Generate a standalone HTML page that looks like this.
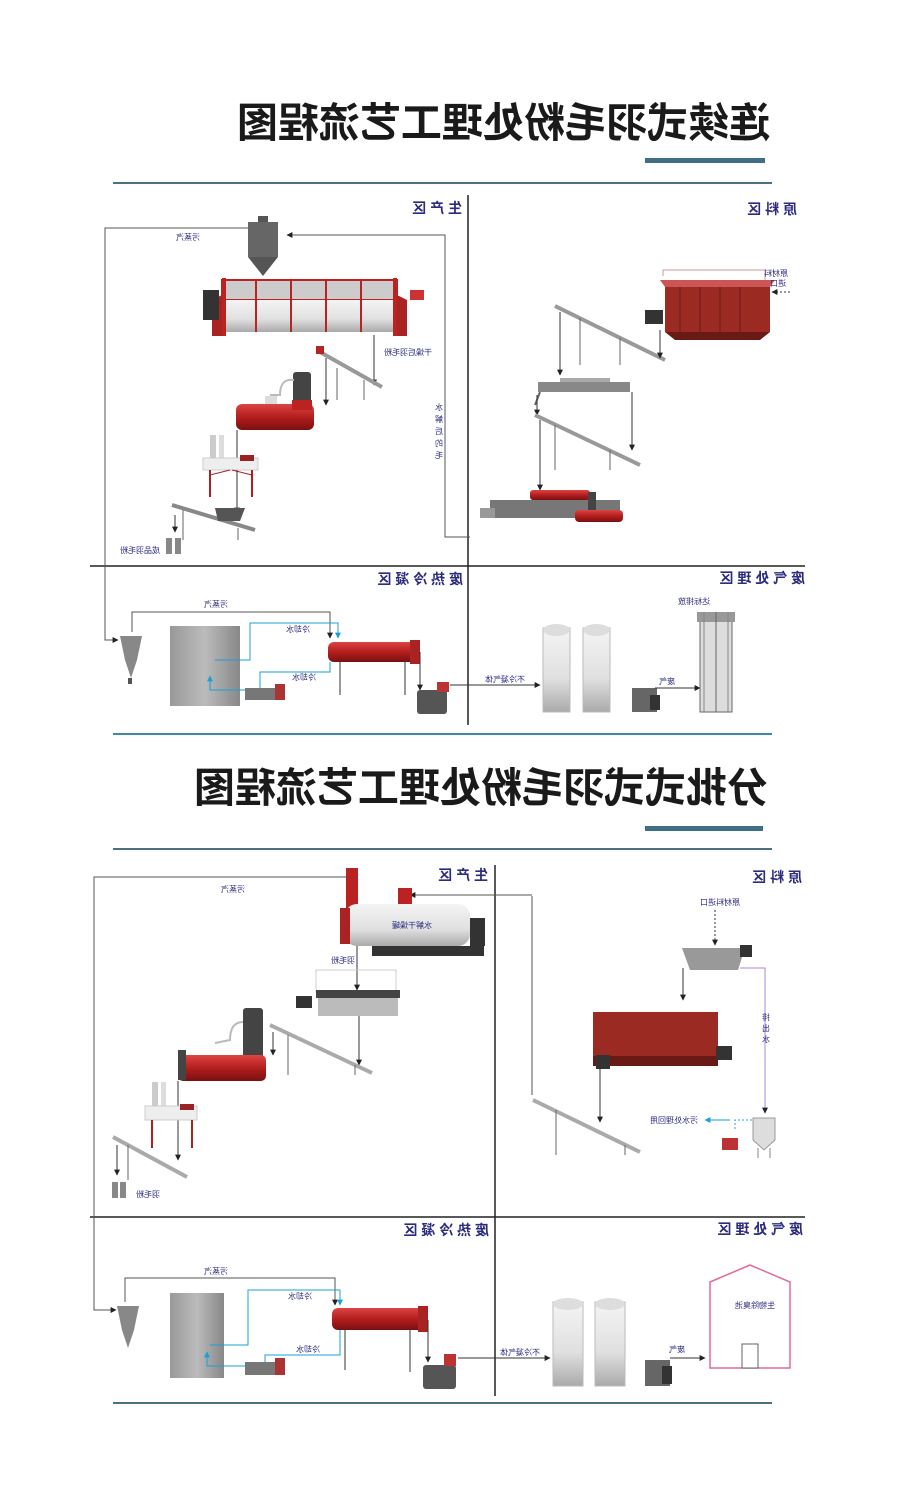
<!DOCTYPE html>
<html><head><meta charset="utf-8"><style>
html,body{margin:0;padding:0;background:#fff;}
svg{display:block;}
text{font-family:"Liberation Sans","Noto Sans CJK SC",sans-serif;}
.t{font-size:41px;font-weight:bold;fill:#1a1a1a;}
.z{font-size:14px;font-weight:bold;fill:#2b2b80;}
.s{font-size:8px;fill:#2b2b80;}
</style></head><body>
<svg width="920" height="1498" viewBox="0 0 920 1498" xmlns="http://www.w3.org/2000/svg">
<defs>
<linearGradient id="gr" x1="0" y1="0" x2="0" y2="1"><stop offset="0" stop-color="#d44"/><stop offset=".5" stop-color="#b41e1e"/><stop offset="1" stop-color="#7a1010"/></linearGradient>
<linearGradient id="gw" x1="0" y1="0" x2="0" y2="1"><stop offset="0" stop-color="#f4f4f4"/><stop offset=".6" stop-color="#e0e0e0"/><stop offset="1" stop-color="#aaa"/></linearGradient>
<linearGradient id="gg" x1="0" y1="0" x2="1" y2="0"><stop offset="0" stop-color="#999"/><stop offset=".5" stop-color="#bbb"/><stop offset="1" stop-color="#888"/></linearGradient>
<marker id="a" viewBox="0 0 10 10" refX="9" refY="5" markerWidth="6" markerHeight="6" orient="auto"><path d="M0,0L10,5L0,10z" fill="#222"/></marker>
<marker id="b" viewBox="0 0 10 10" refX="9" refY="5" markerWidth="6" markerHeight="6" orient="auto"><path d="M0,0L10,5L0,10z" fill="#19a0d8"/></marker>
</defs>

<text class="t" transform="translate(770,137) scale(-1,1)">连续式羽毛粉处理工艺流程图</text>
<rect x="645" y="158" width="120" height="5" fill="#3e6f86"/>
<line x1="113" y1="183" x2="772" y2="183" stroke="#4d6f82" stroke-width="2"/>

<text class="t" transform="translate(768,802) scale(-1,1)">分批式式羽毛粉处理工艺流程图</text>
<rect x="645" y="826" width="118" height="5" fill="#3e6f86"/>
<line x1="113" y1="849" x2="772" y2="849" stroke="#4d6f82" stroke-width="2"/>

<line x1="113" y1="734" x2="772" y2="734" stroke="#3e8aa3" stroke-width="2"/>
<line x1="113" y1="1403" x2="772" y2="1403" stroke="#4d6f82" stroke-width="2"/>

<line x1="468" y1="195" x2="468" y2="725" stroke="#222" stroke-width="1.5"/>
<line x1="90" y1="566" x2="805" y2="566" stroke="#222" stroke-width="1.5"/>
<text class="z" transform="translate(462,213) scale(-1,1)">生 产 区</text>
<text class="z" transform="translate(797,214) scale(-1,1)">原 料 区</text>
<text class="z" transform="translate(463,584) scale(-1,1)">废 热 冷 凝 区</text>
<text class="z" transform="translate(805,583) scale(-1,1)">废 气 处 理 区</text>

<polyline points="248,228 105,228 105,640 118,640" fill="none" stroke="#555" stroke-width="1" marker-end="url(#a)"/>
<polyline points="470,537 445,537 445,235 287,235" fill="none" stroke="#555" stroke-width="1" marker-end="url(#a)"/>
<text class="s" transform="translate(200,240) scale(-1,1)">污蒸汽</text>
<text class="s" transform="translate(432,355) scale(-1,1)">干燥后羽毛粉</text>
<text class="s" transform="translate(160,553) scale(-1,1)">成品羽毛粉</text>
<text class="s" transform="translate(443,410) scale(-1,1)">水</text>
<text class="s" transform="translate(443,422) scale(-1,1)">解</text>
<text class="s" transform="translate(443,434) scale(-1,1)">后</text>
<text class="s" transform="translate(443,446) scale(-1,1)">的</text>
<text class="s" transform="translate(443,458) scale(-1,1)">毛</text>

<rect x="248" y="222" width="30" height="35" fill="#666"/>
<polygon points="248,257 278,257 263,276" fill="#555"/>
<rect x="258" y="216" width="10" height="6" fill="#555"/>
<rect x="222" y="280" width="175" height="20" fill="#ccc" stroke="#b22" stroke-width="2"/>
<rect x="222" y="300" width="175" height="32" fill="url(#gw)"/>
<rect x="222" y="278" width="4" height="58" fill="#b22"/><rect x="393" y="278" width="4" height="58" fill="#b22"/>
<rect x="255" y="280" width="2" height="52" fill="#b22"/><rect x="290" y="280" width="2" height="52" fill="#b22"/><rect x="325" y="280" width="2" height="52" fill="#b22"/><rect x="360" y="280" width="2" height="52" fill="#b22"/>
<polygon points="212,300 222,295 222,336 212,336" fill="#a22"/><polygon points="397,295 407,300 407,336 397,336" fill="#a22"/>
<rect x="203" y="290" width="16" height="30" fill="#333"/>
<rect x="410" y="290" width="14" height="10" fill="#c33"/>
<line x1="374" y1="335" x2="374" y2="385" stroke="#333" marker-end="url(#a)"/>
<line x1="320" y1="352" x2="382" y2="387" stroke="#999" stroke-width="4"/>
<rect x="316" y="346" width="8" height="8" fill="#b22"/>
<line x1="326" y1="358" x2="326" y2="405" stroke="#333" marker-end="url(#a)"/>
<line x1="337" y1="368" x2="337" y2="400" stroke="#666"/><line x1="364" y1="380" x2="364" y2="400" stroke="#666"/>
<rect x="293" y="372" width="18" height="35" rx="3" fill="#444"/>
<rect x="236" y="404" width="78" height="26" rx="6" fill="url(#gr)"/>
<rect x="292" y="400" width="20" height="10" fill="#b22"/>
<path d="M294,380 Q280,378 280,395 L270,395" fill="none" stroke="#bbb" stroke-width="2"/>
<rect x="265" y="396" width="12" height="8" fill="#ddd"/>
<line x1="237" y1="430" x2="237" y2="470" stroke="#333" marker-end="url(#a)"/>
<rect x="210" y="435" width="6" height="30" fill="#ccc"/><rect x="219" y="435" width="5" height="30" fill="#ddd"/>
<rect x="203" y="458" width="55" height="12" fill="#eee" stroke="#ccc"/>
<line x1="210" y1="470" x2="210" y2="497" stroke="#a22" stroke-width="2"/><line x1="252" y1="470" x2="252" y2="497" stroke="#a22" stroke-width="2"/>
<line x1="210" y1="475" x2="230" y2="470" stroke="#a22"/><line x1="252" y1="475" x2="232" y2="470" stroke="#a22"/>
<rect x="240" y="455" width="14" height="6" fill="#922"/>
<line x1="237" y1="470" x2="237" y2="513" stroke="#333" marker-end="url(#a)"/>
<line x1="172" y1="505" x2="255" y2="530" stroke="#888" stroke-width="4"/>
<polygon points="215,508 245,508 240,521 218,521" fill="#555"/>
<line x1="175" y1="515" x2="175" y2="532" stroke="#333" marker-end="url(#a)"/>
<line x1="183" y1="510" x2="183" y2="540" stroke="#666"/><line x1="238" y1="528" x2="238" y2="540" stroke="#666"/>
<rect x="166" y="538" width="6" height="16" fill="#888"/><rect x="175" y="538" width="6" height="16" fill="#888"/>

<rect x="665" y="287" width="105" height="45" fill="#9b2a22"/>
<polygon points="665,287 770,287 775,280 660,280" fill="#c55"/>
<line x1="680" y1="287" x2="680" y2="332" stroke="#6a1a15"/><line x1="700" y1="287" x2="700" y2="332" stroke="#6a1a15"/><line x1="720" y1="287" x2="720" y2="332" stroke="#6a1a15"/><line x1="740" y1="287" x2="740" y2="332" stroke="#6a1a15"/>
<polygon points="665,332 770,332 760,340 675,340" fill="#6a1a15"/>
<rect x="645" y="310" width="18" height="14" fill="#333"/>
<polyline points="663,276 663,270 765,270 765,280" fill="none" stroke="#c99"/>
<text class="s" transform="translate(788,276) scale(-1,1)">原材料</text>
<text class="s" transform="translate(786,286) scale(-1,1)">进口</text>
<line x1="790" y1="292" x2="772" y2="292" stroke="#333" stroke-dasharray="2,2" marker-end="url(#a)"/>
<line x1="555" y1="306" x2="665" y2="360" stroke="#999" stroke-width="4"/>
<line x1="660" y1="330" x2="660" y2="358" stroke="#333" marker-end="url(#a)"/>
<line x1="560" y1="312" x2="560" y2="375" stroke="#333" marker-end="url(#a)"/>
<line x1="580" y1="318" x2="580" y2="365" stroke="#666"/><line x1="620" y1="338" x2="620" y2="365" stroke="#666"/>
<rect x="538" y="382" width="92" height="10" fill="#888"/>
<rect x="560" y="378" width="50" height="4" fill="#aaa"/>
<line x1="540" y1="392" x2="535" y2="405" stroke="#666" stroke-width="2"/>
<line x1="632" y1="392" x2="632" y2="450" stroke="#333" marker-end="url(#a)"/>
<line x1="537" y1="395" x2="537" y2="415" stroke="#333" marker-end="url(#a)"/>
<line x1="535" y1="415" x2="640" y2="465" stroke="#999" stroke-width="4"/>
<line x1="540" y1="420" x2="540" y2="490" stroke="#333" marker-end="url(#a)"/>
<line x1="555" y1="425" x2="555" y2="470" stroke="#666"/><line x1="610" y1="450" x2="610" y2="470" stroke="#666"/>
<rect x="490" y="500" width="130" height="18" fill="#777"/>
<rect x="530" y="490" width="60" height="10" rx="3" fill="url(#gr)"/>
<rect x="588" y="492" width="8" height="20" fill="#444"/>
<rect x="575" y="510" width="48" height="12" rx="4" fill="url(#gr)"/>
<rect x="480" y="508" width="15" height="10" fill="#999"/>

<polygon points="120,636 142,636 137,660 131,678 125,660" fill="#888"/>
<rect x="128" y="678" width="4" height="6" fill="#555"/>
<rect x="170" y="626" width="70" height="80" fill="url(#gg)"/>
<polyline points="132,632 132,612 330,612 330,638" fill="none" stroke="#555" marker-end="url(#a)"/>
<text class="s" transform="translate(228,607) scale(-1,1)">污蒸汽</text>
<polyline points="215,660 250,660 250,623 338,623 338,638" fill="none" stroke="#19a0d8" marker-end="url(#b)"/>
<polyline points="330,662 330,672 260,672 260,690" fill="none" stroke="#19a0d8"/>
<polyline points="245,690 210,690 210,676" fill="none" stroke="#19a0d8" marker-end="url(#b)"/>
<text class="s" transform="translate(310,632) scale(-1,1)">冷却水</text>
<text class="s" transform="translate(316,680) scale(-1,1)">冷却水</text>
<rect x="245" y="688" width="35" height="12" fill="#777"/><rect x="275" y="684" width="10" height="16" fill="#a33"/>
<rect x="328" y="642" width="92" height="20" rx="6" fill="url(#gr)"/>
<rect x="410" y="640" width="10" height="24" fill="#a22"/>
<line x1="340" y1="662" x2="340" y2="695" stroke="#333"/><line x1="405" y1="662" x2="405" y2="695" stroke="#333"/>
<line x1="420" y1="652" x2="420" y2="690" stroke="#333" marker-end="url(#a)"/>
<rect x="417" y="690" width="30" height="24" rx="3" fill="#555"/>
<rect x="437" y="682" width="12" height="10" fill="#b33"/>
<line x1="450" y1="685" x2="540" y2="685" stroke="#333" marker-end="url(#a)"/>
<text class="s" transform="translate(525,682) scale(-1,1)">不冷凝气体</text>
<rect x="543" y="628" width="27" height="84" fill="url(#gw)" stroke="#bbb"/>
<rect x="583" y="628" width="27" height="84" fill="url(#gw)" stroke="#bbb"/>
<ellipse cx="556.5" cy="630" rx="13.5" ry="6" fill="#ddd"/><ellipse cx="596.5" cy="630" rx="13.5" ry="6" fill="#ddd"/>
<rect x="632" y="688" width="25" height="24" fill="#666"/><rect x="650" y="695" width="10" height="15" fill="#333"/>
<line x1="655" y1="688" x2="700" y2="688" stroke="#333" marker-end="url(#a)"/>
<text class="s" transform="translate(675,684) scale(-1,1)">废气</text>
<rect x="700" y="620" width="32" height="92" fill="#ddd" stroke="#666"/>
<rect x="697" y="612" width="38" height="10" fill="#999"/>
<line x1="716" y1="612" x2="716" y2="712" stroke="#666"/>
<line x1="704" y1="612" x2="704" y2="712" stroke="#888"/><line x1="728" y1="612" x2="728" y2="712" stroke="#888"/>
<text class="s" transform="translate(710,604) scale(-1,1)">达标排放</text>

<line x1="495" y1="865" x2="495" y2="1396" stroke="#222" stroke-width="1.5"/>
<line x1="90" y1="1217" x2="805" y2="1217" stroke="#222" stroke-width="1.5"/>
<text class="z" transform="translate(488,880) scale(-1,1)">生 产 区</text>
<text class="z" transform="translate(802,882) scale(-1,1)">原 料 区</text>
<text class="z" transform="translate(489,1235) scale(-1,1)">废 热 冷 凝 区</text>
<text class="z" transform="translate(803,1234) scale(-1,1)">废 气 处 理 区</text>

<polyline points="348,877 94,877 94,1310 116,1310" fill="none" stroke="#555" marker-end="url(#a)"/>
<text class="s" transform="translate(245,892) scale(-1,1)">污蒸汽</text>
<polyline points="532,896 532,1095" fill="none" stroke="#555"/>
<polyline points="532,895 410,895" fill="none" stroke="#555" marker-end="url(#a)"/>
<rect x="346" y="868" width="12" height="40" fill="#b22"/>
<rect x="398" y="888" width="14" height="16" fill="#b22"/>
<rect x="345" y="904" width="125" height="42" rx="12" fill="url(#gw)"/>
<rect x="340" y="908" width="10" height="36" fill="#a22"/>
<rect x="470" y="918" width="15" height="28" fill="#333"/>
<rect x="372" y="946" width="112" height="10" fill="#333"/>
<text class="s" transform="translate(432,928) scale(-1,1)">水解干燥罐</text>
<text class="s" transform="translate(355,963) scale(-1,1)">羽毛粉</text>
<line x1="357" y1="946" x2="357" y2="990" stroke="#333" marker-end="url(#a)"/>
<rect x="316" y="970" width="80" height="22" fill="none" stroke="#ccc"/>
<rect x="316" y="990" width="84" height="8" fill="#444"/>
<rect x="318" y="998" width="80" height="18" fill="#bbb"/>
<rect x="296" y="996" width="16" height="12" fill="#333"/>
<line x1="359" y1="1016" x2="359" y2="1065" stroke="#333" marker-end="url(#a)"/>
<line x1="270" y1="1025" x2="372" y2="1073" stroke="#aaa" stroke-width="4"/>
<line x1="273" y1="1032" x2="273" y2="1055" stroke="#333" marker-end="url(#a)"/>
<line x1="288" y1="1035" x2="288" y2="1075" stroke="#666"/><line x1="355" y1="1065" x2="355" y2="1075" stroke="#666"/>
<rect x="243" y="1008" width="20" height="50" rx="3" fill="#444"/>
<rect x="178" y="1055" width="88" height="26" rx="5" fill="url(#gr)"/>
<rect x="178" y="1050" width="8" height="30" fill="#444"/>
<path d="M243,1022 Q230,1022 230,1040 L215,1043" fill="none" stroke="#bbb" stroke-width="2"/>
<line x1="178" y1="1081" x2="178" y2="1160" stroke="#333" marker-end="url(#a)"/>
<rect x="152" y="1082" width="6" height="30" fill="#ccc"/><rect x="161" y="1082" width="5" height="30" fill="#ddd"/>
<rect x="145" y="1106" width="52" height="14" fill="#eee" stroke="#ccc"/>
<line x1="152" y1="1120" x2="152" y2="1148" stroke="#a22" stroke-width="2"/><line x1="192" y1="1120" x2="192" y2="1148" stroke="#a22" stroke-width="2"/>
<rect x="180" y="1104" width="14" height="6" fill="#922"/>
<line x1="113" y1="1137" x2="187" y2="1177" stroke="#aaa" stroke-width="4"/>
<line x1="117" y1="1145" x2="117" y2="1175" stroke="#333" marker-end="url(#a)"/>
<line x1="128" y1="1145" x2="128" y2="1180" stroke="#666"/>
<rect x="112" y="1182" width="6" height="16" fill="#888"/><rect x="120" y="1182" width="6" height="16" fill="#888"/>
<text class="s" transform="translate(160,1197) scale(-1,1)">羽毛粉</text>

<text class="s" transform="translate(740,905) scale(-1,1)">原材料进口</text>
<line x1="715" y1="910" x2="715" y2="945" stroke="#333" stroke-dasharray="2,2" marker-end="url(#a)"/>
<polygon points="682,948 745,948 738,970 690,970" fill="#999"/>
<rect x="740" y="945" width="12" height="12" fill="#333"/>
<line x1="683" y1="968" x2="683" y2="1000" stroke="#333" marker-end="url(#a)"/>
<polyline points="740,968 765,968 765,1113" fill="none" stroke="#a98ad8" marker-end="url(#a)"/>
<text class="s" transform="translate(770,1020) scale(-1,1)">排</text>
<text class="s" transform="translate(770,1031) scale(-1,1)">出</text>
<text class="s" transform="translate(770,1042) scale(-1,1)">水</text>
<rect x="593" y="1012" width="125" height="44" fill="#9b2a22"/>
<rect x="593" y="1056" width="125" height="10" fill="#6a1a15"/>
<rect x="716" y="1046" width="16" height="14" fill="#333"/>
<rect x="596" y="1055" width="14" height="14" fill="#333"/>
<line x1="600" y1="1066" x2="600" y2="1122" stroke="#333" marker-end="url(#a)"/>
<line x1="533" y1="1100" x2="640" y2="1152" stroke="#aaa" stroke-width="4"/>
<line x1="556" y1="1110" x2="556" y2="1155" stroke="#666"/><line x1="625" y1="1145" x2="625" y2="1155" stroke="#666"/>
<polygon points="753,1118 775,1118 775,1140 764,1150 753,1140" fill="#ddd" stroke="#999"/>
<line x1="758" y1="1148" x2="758" y2="1158" stroke="#888"/><line x1="770" y1="1148" x2="770" y2="1158" stroke="#888"/>
<polyline points="752,1120 735,1120 735,1130" fill="none" stroke="#19a0d8" stroke-dasharray="2,2"/>
<line x1="730" y1="1120" x2="705" y2="1120" stroke="#19a0d8" marker-end="url(#b)"/>
<text class="s" transform="translate(698,1123) scale(-1,1)">污水处理回用</text>
<rect x="722" y="1138" width="16" height="12" fill="#b33"/>

<polygon points="117,1306 139,1306 134,1330 128,1348 122,1330" fill="#888"/>
<rect x="170" y="1293" width="54" height="85" fill="url(#gg)"/>
<polyline points="125,1302 125,1278 335,1278 335,1305" fill="none" stroke="#555" marker-end="url(#a)"/>
<text class="s" transform="translate(228,1274) scale(-1,1)">污蒸汽</text>
<polyline points="210,1345 248,1345 248,1290 340,1290 340,1305" fill="none" stroke="#19a0d8" marker-end="url(#b)"/>
<polyline points="340,1330 340,1355 265,1355 265,1362" fill="none" stroke="#19a0d8"/>
<polyline points="245,1366 207,1366 207,1352" fill="none" stroke="#19a0d8" marker-end="url(#b)"/>
<text class="s" transform="translate(312,1299) scale(-1,1)">冷却水</text>
<text class="s" transform="translate(320,1352) scale(-1,1)">冷却水</text>
<rect x="245" y="1362" width="38" height="13" fill="#777"/><rect x="275" y="1358" width="10" height="17" fill="#a33"/>
<rect x="332" y="1308" width="95" height="22" rx="6" fill="url(#gr)"/>
<rect x="418" y="1306" width="10" height="26" fill="#a22"/>
<line x1="345" y1="1330" x2="345" y2="1370" stroke="#333"/><line x1="410" y1="1330" x2="410" y2="1372" stroke="#333"/>
<line x1="428" y1="1320" x2="428" y2="1362" stroke="#333" marker-end="url(#a)"/>
<rect x="423" y="1365" width="33" height="24" rx="3" fill="#555"/>
<rect x="444" y="1354" width="12" height="12" fill="#b33"/>
<line x1="458" y1="1358" x2="550" y2="1358" stroke="#333" marker-end="url(#a)"/>
<text class="s" transform="translate(540,1355) scale(-1,1)">不冷凝气体</text>
<rect x="553" y="1302" width="30" height="84" fill="url(#gw)" stroke="#bbb"/>
<rect x="595" y="1302" width="30" height="84" fill="url(#gw)" stroke="#bbb"/>
<ellipse cx="568" cy="1304" rx="15" ry="6" fill="#ddd"/><ellipse cx="610" cy="1304" rx="15" ry="6" fill="#ddd"/>
<rect x="645" y="1360" width="25" height="26" fill="#666"/><rect x="662" y="1366" width="10" height="18" fill="#333"/>
<line x1="670" y1="1358" x2="705" y2="1358" stroke="#333" marker-end="url(#a)"/>
<text class="s" transform="translate(685,1352) scale(-1,1)">废气</text>
<polygon points="710,1282 750,1265 790,1282 790,1368 710,1368" fill="none" stroke="#e06aa0" stroke-width="1.5"/>
<rect x="742" y="1344" width="16" height="24" fill="#fff" stroke="#666"/>
<text class="s" transform="translate(775,1308) scale(-1,1)">生物除臭池</text>
</svg>
</body></html>
